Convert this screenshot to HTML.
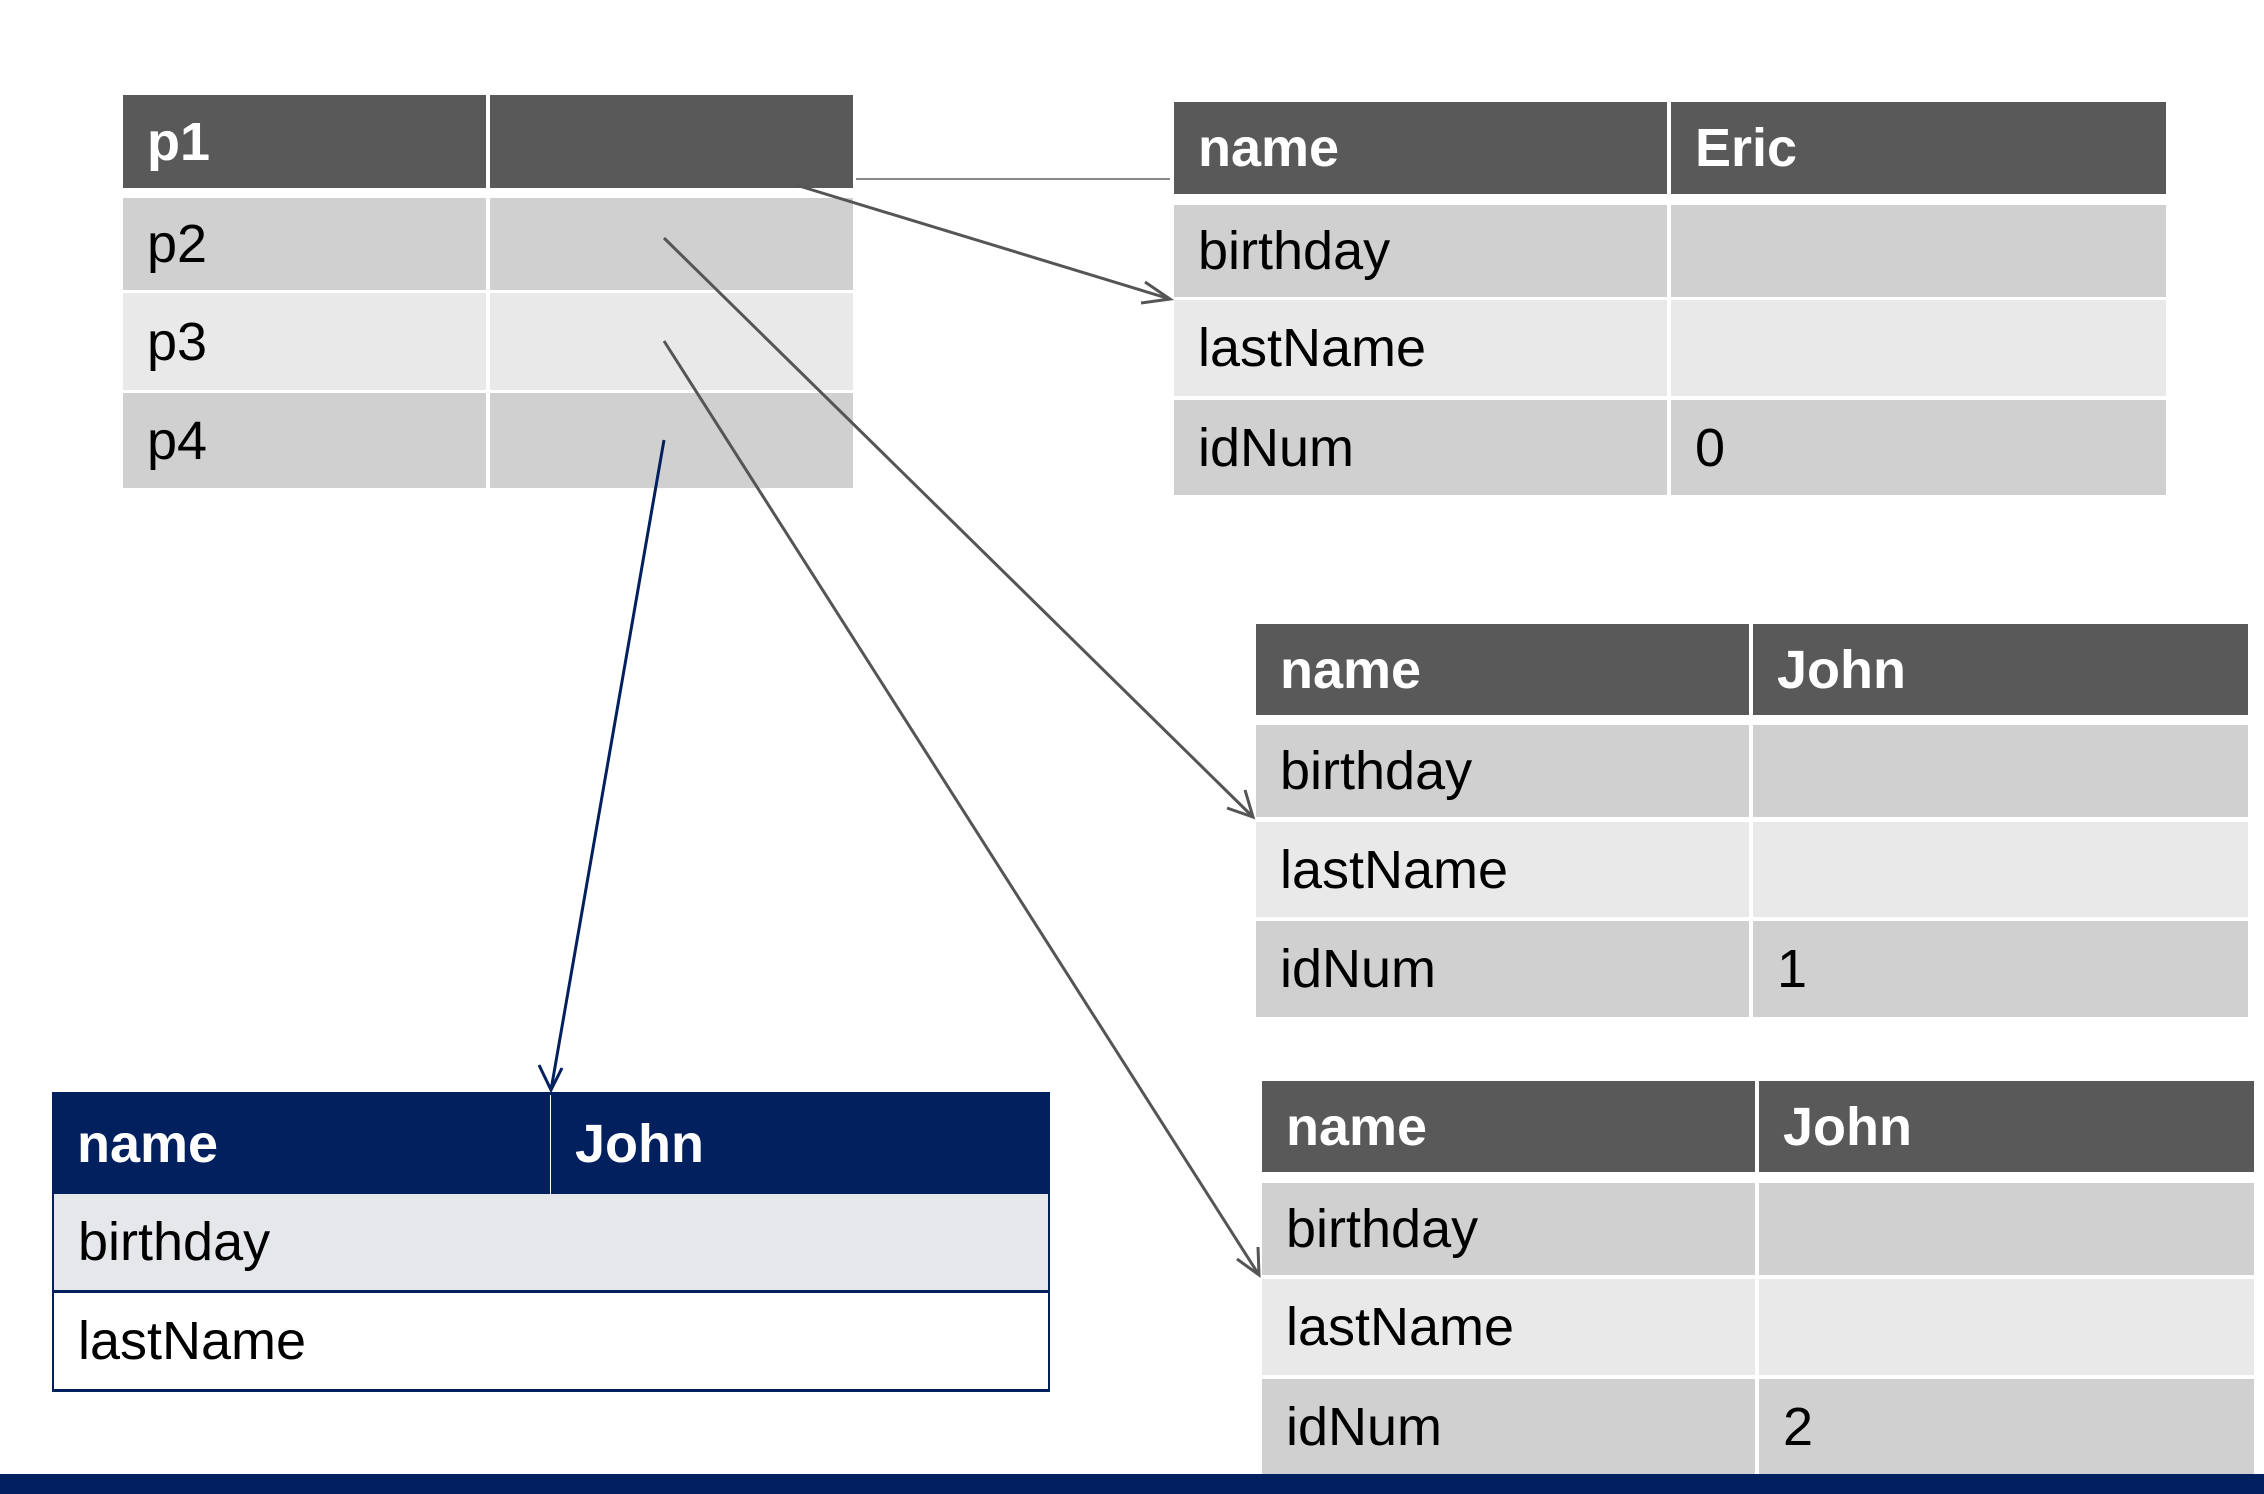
<!DOCTYPE html>
<html><head><meta charset="utf-8"><style>
body{margin:0;width:2264px;height:1494px;background:#fff;position:relative;overflow:hidden;font-family:"Liberation Sans",sans-serif;}
.c{position:absolute;box-sizing:border-box;font-size:54px;line-height:1;padding-left:24px;display:flex;align-items:center;color:#000;}
.h{background:#595959;color:#fff;font-weight:bold;}
.d{background:#d0d0d0;}
.l{background:#e9e9e9;}
svg{position:absolute;left:0;top:0;}
</style></head><body>
<!-- p table -->
<div class="c h" style="left:123px;top:95px;width:363px;height:93px">p1</div>
<div class="c h" style="left:490px;top:95px;width:363px;height:93px"></div>
<div class="c d" style="left:123px;top:198px;width:363px;height:92px">p2</div>
<div class="c d" style="left:490px;top:198px;width:363px;height:92px"></div>
<div class="c l" style="left:123px;top:293px;width:363px;height:97px">p3</div>
<div class="c l" style="left:490px;top:293px;width:363px;height:97px"></div>
<div class="c d" style="left:123px;top:393px;width:363px;height:95px">p4</div>
<div class="c d" style="left:490px;top:393px;width:363px;height:95px"></div>

<!-- Eric -->
<div class="c h" style="left:1174px;top:102px;width:493px;height:92px">name</div>
<div class="c h" style="left:1671px;top:102px;width:495px;height:92px">Eric</div>
<div class="c d" style="left:1174px;top:205px;width:493px;height:92px">birthday</div>
<div class="c d" style="left:1671px;top:205px;width:495px;height:92px"></div>
<div class="c l" style="left:1174px;top:300px;width:493px;height:96px">lastName</div>
<div class="c l" style="left:1671px;top:300px;width:495px;height:96px"></div>
<div class="c d" style="left:1174px;top:400px;width:493px;height:95px">idNum</div>
<div class="c d" style="left:1671px;top:400px;width:495px;height:95px">0</div>

<!-- John 1 -->
<div class="c h" style="left:1256px;top:624px;width:493px;height:91px">name</div>
<div class="c h" style="left:1753px;top:624px;width:495px;height:91px">John</div>
<div class="c d" style="left:1256px;top:725px;width:493px;height:92px">birthday</div>
<div class="c d" style="left:1753px;top:725px;width:495px;height:92px"></div>
<div class="c l" style="left:1256px;top:822px;width:493px;height:95px">lastName</div>
<div class="c l" style="left:1753px;top:822px;width:495px;height:95px"></div>
<div class="c d" style="left:1256px;top:921px;width:493px;height:96px">idNum</div>
<div class="c d" style="left:1753px;top:921px;width:495px;height:96px">1</div>

<!-- John 2 -->
<div class="c h" style="left:1262px;top:1081px;width:493px;height:91px">name</div>
<div class="c h" style="left:1759px;top:1081px;width:495px;height:91px">John</div>
<div class="c d" style="left:1262px;top:1183px;width:493px;height:92px">birthday</div>
<div class="c d" style="left:1759px;top:1183px;width:495px;height:92px"></div>
<div class="c l" style="left:1262px;top:1279px;width:493px;height:96px">lastName</div>
<div class="c l" style="left:1759px;top:1279px;width:495px;height:96px"></div>
<div class="c d" style="left:1262px;top:1379px;width:493px;height:95px">idNum</div>
<div class="c d" style="left:1759px;top:1379px;width:495px;height:95px">2</div>

<!-- navy table -->
<div style="position:absolute;left:52px;top:1092px;width:998px;height:300px;border:3px solid #03205e;box-sizing:border-box;"></div>
<div class="c" style="left:53px;top:1093px;width:497px;height:101px;background:#02205e;color:#fff;font-weight:bold">name</div>
<div class="c" style="left:551px;top:1093px;width:498px;height:101px;background:#02205e;color:#fff;font-weight:bold">John</div>
<div class="c" style="left:54px;top:1194px;width:994px;height:96px;background:#e6e7ea">birthday</div>
<div style="position:absolute;left:53px;top:1290px;width:996px;height:3px;background:#03205e"></div>
<div class="c" style="left:54px;top:1293px;width:994px;height:96px;background:#fff">lastName</div>

<div style="position:absolute;left:0;top:1474px;width:2264px;height:20px;background:#022060"></div>

<svg width="2264" height="1494">
<line x1="856" y1="179" x2="1170" y2="179" stroke="#888" stroke-width="2"/>
<g stroke="#555" stroke-width="3" fill="none">
<line x1="796" y1="185" x2="1170" y2="299"/>
<polyline points="1145,282 1170,299 1141,303"/>
<line x1="664" y1="238" x2="1253" y2="817"/>
<polyline points="1245,790 1253,817 1227,808"/>
<line x1="664" y1="341" x2="1259" y2="1275"/>
<polyline points="1258,1247 1259,1275 1237,1259"/>
</g>
<g stroke="#03205e" stroke-width="3" fill="none">
<line x1="664" y1="440" x2="551" y2="1090"/>
<polyline points="539,1065 551,1090 562,1068"/>
</g>
</svg>
</body></html>
